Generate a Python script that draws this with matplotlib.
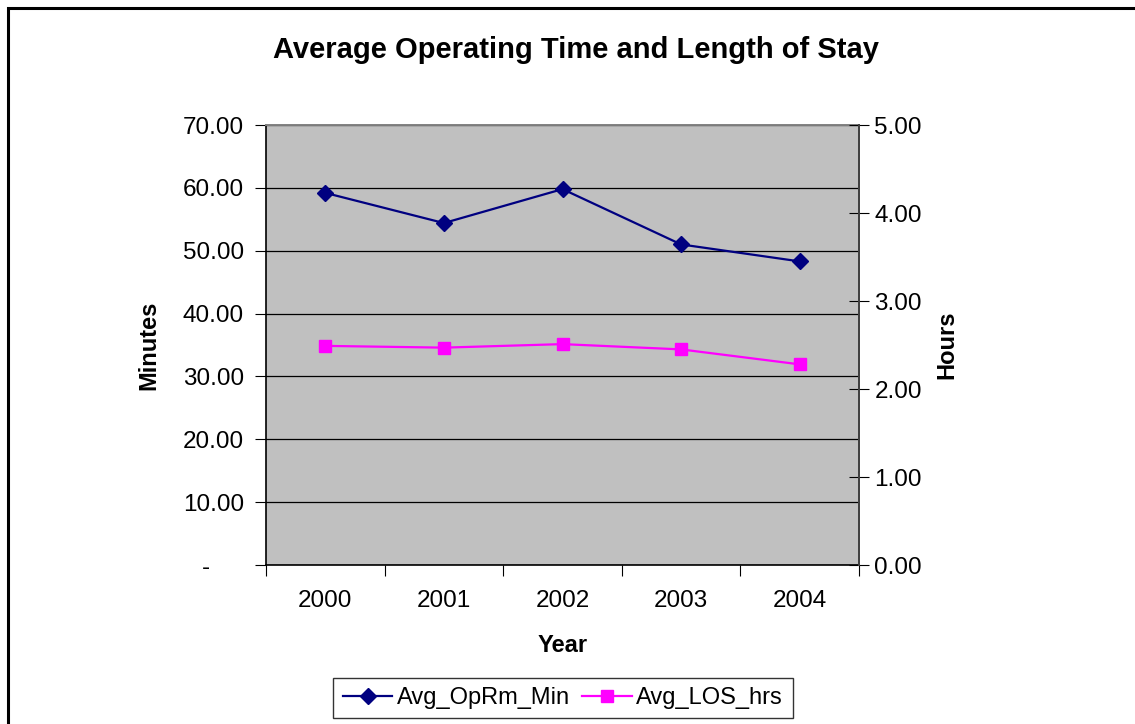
import numpy as np
from matplotlib import pyplot as plt
from matplotlib.patches import Rectangle

plt.rcParams['font.family'] = ['Liberation Sans', 'DejaVu Sans']

# Datos
years = ['2000', '2001', '2002', '2003', '2004']
op_min = [59.2, 54.4, 59.8, 51.0, 48.3]      # eje izquierdo (minutos)
los_hrs = [2.49, 2.47, 2.51, 2.45, 2.28]      # eje derecho (horas)
left_ticks = [0, 10, 20, 30, 40, 50, 60, 70]
right_ticks = [0, 1, 2, 3, 4, 5]

fig = plt.figure(figsize=(11.35, 7.24), dpi=100)
fig.patches.append(Rectangle((8/1135, -0.01), 1.2, 1 - 8/724 + 0.01,
                             transform=fig.transFigure, fill=False,
                             edgecolor='black', linewidth=2.2, zorder=0))

ax = fig.add_axes([266/1135, 1 - 565/724, (859 - 266)/1135, (565 - 125)/724])
ax.set_facecolor('#C0C0C0')
x = np.arange(len(years))

ax.plot(x, op_min, color='#000080', marker='D', markersize=8, linewidth=1.6, zorder=3)
ax.set_xlim(-0.5, len(years) - 0.5)
ax.set_ylim(0, 70)
ax.set_yticks(left_ticks)
ax.set_yticklabels(['-     '] + [f'{v:.2f}' for v in left_ticks[1:]])
ax.grid(axis='y', color='black', linewidth=0.9)
ax.set_axisbelow(True)

ax.set_xticks(np.arange(-0.5, len(years)), minor=False)
ax.set_xticklabels([])
ax.set_xticks(x, minor=True)
ax.set_xticklabels(years, minor=True)
ax.tick_params(axis='x', which='major', length=8, direction='out', color='black')
ax.tick_params(axis='x', which='minor', length=0, labelsize=17.5, pad=18)
ax.tick_params(axis='y', length=8, direction='out', labelsize=17.5, pad=8)

for s in ['top', 'right']:
    ax.spines[s].set_color('#808080')
    ax.spines[s].set_linewidth(1.4)
ax.spines['left'].set_color('black')
ax.spines['bottom'].set_color('black')
ax.spines['left'].set_linewidth(1.2)
ax.spines['bottom'].set_linewidth(1.2)

ax2 = ax.twinx()
ax2.plot(x, los_hrs, color='#FF00FF', marker='s', markersize=9, linewidth=1.6, zorder=3)
ax2.set_ylim(0, 5)
ax2.set_yticks(right_ticks)
ax2.set_yticklabels([f'{v:.2f}' for v in right_ticks])
ax2.tick_params(axis='y', length=14, direction='inout', labelsize=17.5, pad=4)
ax2.spines['right'].set_color('#404040')
ax2.spines['right'].set_linewidth(1.4)
for s in ['top', 'left', 'bottom']:
    ax2.spines[s].set_visible(False)

ax.set_ylabel('Minutes', fontsize=17, fontweight='bold', labelpad=16)
ax2.set_ylabel('Hours', fontsize=17, fontweight='bold', labelpad=10)
ax.set_xlabel('Year', fontsize=17, fontweight='bold', labelpad=16)

fig.text(0.5 * (270 + 882) / 1135, 1 - 50/724, 'Average Operating Time and Length of Stay',
         ha='center', va='center', fontsize=21, fontweight='bold')

h1, = ax.plot([], [], color='#000080', marker='D', markersize=8, linewidth=1.6)
h2, = ax.plot([], [], color='#FF00FF', marker='s', markersize=9, linewidth=1.6)
leg = fig.legend([h1, h2], ['Avg_OpRm_Min', 'Avg_LOS_hrs'], loc='center',
                 bbox_to_anchor=(563/1135, 1 - 698/724), ncol=2, fontsize=17,
                 frameon=True, fancybox=False, edgecolor='black',
                 handlelength=2.1, handletextpad=0.2, columnspacing=0.5,
                 borderpad=0.4, borderaxespad=0)
leg.get_frame().set_linewidth(1.0)

fig.savefig('out.png', dpi=100)
